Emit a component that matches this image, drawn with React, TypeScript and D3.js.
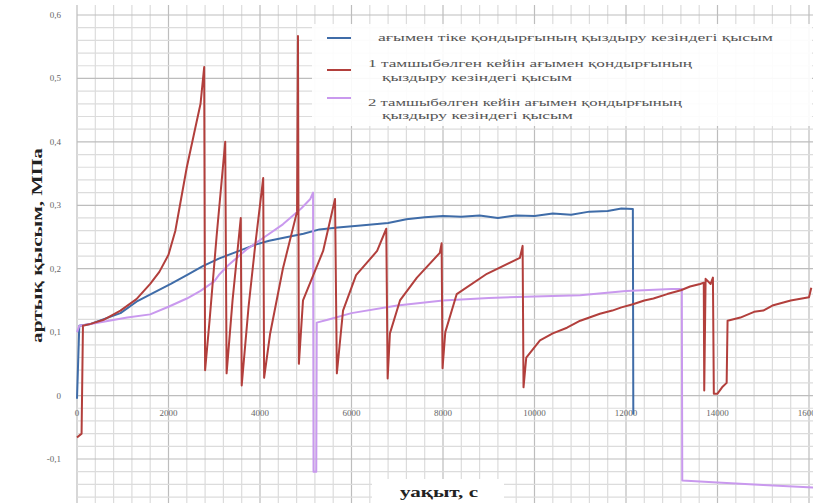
import { useEffect, useRef } from "react";
import * as d3 from "d3";

// time, s
const xTicks = [0, 2000, 4000, 6000, 8000, 10000, 12000, 14000, 16000];
const yTicks = [-0.1, 0, 0.1, 0.2, 0.3, 0.4, 0.5, 0.6];

// pressure, MPa: [time, value]
const bluePressure: [number, number][] = [
  [0, -0.005], [50, 0.11], [300, 0.113], [600, 0.121], [950, 0.13], [1300, 0.148],
  [1700, 0.163], [2050, 0.176], [2400, 0.19], [2750, 0.204], [3100, 0.216],
  [3500, 0.227], [3900, 0.238], [4200, 0.244], [4600, 0.25], [4950, 0.255],
  [5300, 0.262], [5700, 0.265], [6200, 0.268], [6800, 0.272], [7200, 0.278],
  [7600, 0.281], [8000, 0.283], [8400, 0.282], [8800, 0.284], [9200, 0.28],
  [9600, 0.284], [10000, 0.283], [10400, 0.287], [10800, 0.285], [11200, 0.29],
  [11600, 0.291], [11900, 0.295], [12150, 0.294], [12160, -0.03],
];

const redPressure: [number, number][] = [
  [0, -0.066], [100, -0.06], [130, 0.11], [300, 0.113], [600, 0.12], [950, 0.134],
  [1300, 0.152], [1600, 0.176], [1800, 0.195], [2000, 0.222], [2150, 0.26],
  [2250, 0.3], [2400, 0.36], [2550, 0.41], [2700, 0.46], [2780, 0.518], [2800, 0.04],
  [2900, 0.12], [3050, 0.25], [3240, 0.4], [3270, 0.035],
  [3400, 0.15], [3580, 0.28], [3600, 0.016],
  [3750, 0.14], [3900, 0.24], [4070, 0.343], [4090, 0.028],
  [4220, 0.097], [4500, 0.2], [4810, 0.29], [4830, 0.567], [4850, 0.05],
  [4940, 0.15], [5380, 0.228], [5640, 0.31], [5680, 0.035],
  [5815, 0.134], [6100, 0.19], [6560, 0.228], [6760, 0.263], [6790, 0.027],
  [6840, 0.098], [7060, 0.15], [7430, 0.186], [7930, 0.225], [7970, 0.24], [7990, 0.043],
  [8050, 0.1], [8300, 0.16], [8960, 0.192], [9680, 0.217], [9740, 0.236], [9760, 0.013],
  [9820, 0.06], [10120, 0.087], [10400, 0.098], [10710, 0.107], [11000, 0.118],
  [11430, 0.129], [11700, 0.134], [11900, 0.139], [12150, 0.144], [12400, 0.15],
  [12600, 0.153], [12900, 0.16], [13200, 0.166], [13400, 0.172], [13620, 0.176],
  [13700, 0.178], [13710, 0.008], [13740, 0.184], [13850, 0.176], [13900, 0.186],
  [13920, 0.003], [14000, 0.003], [14100, 0.013], [14200, 0.02], [14220, 0.118],
  [14500, 0.123], [14800, 0.132], [15000, 0.134], [15200, 0.142], [15600, 0.15],
  [16000, 0.155], [16050, 0.17],
];

const purplePressure: [number, number][] = [
  [0, 0.1], [50, 0.11], [300, 0.113], [700, 0.118], [1100, 0.123], [1600, 0.128],
  [2000, 0.14], [2400, 0.153], [2700, 0.165], [3000, 0.18], [3100, 0.19],
  [3300, 0.205], [3700, 0.23], [4100, 0.25], [4500, 0.27], [4900, 0.295],
  [5100, 0.31], [5160, 0.32], [5170, -0.12], [5230, -0.12], [5240, 0.115],
  [5500, 0.12], [6000, 0.13], [7000, 0.142], [8000, 0.15], [9000, 0.154],
  [10000, 0.156], [11000, 0.158], [12000, 0.165], [13000, 0.168], [13220, 0.168],
  [13230, -0.134], [14000, -0.137], [15000, -0.141], [16100, -0.145],
];

const seriesNames = [
  ["ағымен тіке қондырғының қыздыру кезіндегі қысым"],
  ["1 тамшыбөлген кейін ағымен қондырғының", "қыздыру кезіндегі қысым"],
  ["2 тамшыбөлген кейін ағымен қондырғының", "қыздыру кезіндегі қысым"],
];
const seriesColors = ["#3f6ca8", "#b23f3c", "#c999ee"];

export default function App() {
  const svgRef = useRef<SVGSVGElement>(null);

  useEffect(() => {
    const width = 813;
    const height = 503;
    const svg = d3.select(svgRef.current);
    svg.selectAll("*").remove();

    const x = d3.scaleLinear().domain([0, 16000]).range([77, 809]);
    const y = d3.scaleLinear().domain([-0.1, 0.6]).range([459, 15]);
    const top = 5;

    svg.append("rect").attr("width", width).attr("height", height).attr("fill", "#fff");

    // grid
    const grid = svg.append("g");
    const xMinor = d3.range(0, x.invert(width), 400);
    const yMinor = d3.range(-0.16, 0.61, 0.02);
    grid
      .selectAll("line.v")
      .data(xMinor)
      .enter()
      .append("line")
      .attr("x1", (d) => x(d))
      .attr("x2", (d) => x(d))
      .attr("y1", top)
      .attr("y2", height)
      .attr("stroke", (d) => (Math.round(d) % 2000 === 0 ? "#bdbdbd" : "#dcdcdc"))
      .attr("stroke-width", 1.2);
    grid
      .selectAll("line.h")
      .data(yMinor)
      .enter()
      .append("line")
      .attr("x1", x(0))
      .attr("x2", width)
      .attr("y1", (d) => y(d))
      .attr("y2", (d) => y(d))
      .attr("stroke", (d) => (Math.abs(Math.round(d * 50)) % 5 === 0 ? "#bdbdbd" : "#dcdcdc"))
      .attr("stroke-width", 1.2);

    // tick labels
    svg
      .selectAll("text.yt")
      .data(yTicks)
      .enter()
      .append("text")
      .attr("x", 61)
      .attr("y", (d) => y(d) + 3)
      .attr("text-anchor", "end")
      .attr("font-family", "Liberation Serif, serif")
      .attr("font-size", "9px")
      .attr("fill", "#666")
      .text((d) => (d === 0 ? "0" : d3.format(".1f")(d).replace(".", ",").replace("−", "-")));

    svg
      .selectAll("text.xt")
      .data(xTicks)
      .enter()
      .append("text")
      .attr("x", (d) => x(d))
      .attr("y", y(0) + 20)
      .attr("text-anchor", "middle")
      .attr("font-family", "Liberation Serif, serif")
      .attr("font-size", "9px")
      .attr("fill", "#666")
      .text((d) => String(d));

    // lines
    const line = d3
      .line<[number, number]>()
      .x((d) => x(d[0]))
      .y((d) => y(d[1]));

    [bluePressure, purplePressure, redPressure].forEach((data) => {
      const idx = data === bluePressure ? 0 : data === redPressure ? 1 : 2;
      svg
        .append("path")
        .datum(data)
        .attr("d", line)
        .attr("fill", "none")
        .attr("stroke", seriesColors[idx])
        .attr("stroke-width", 2)
        .attr("stroke-linejoin", "round");
    });

    // legend
    const legend = svg.append("g");
    legend
      .append("rect")
      .attr("x", 312)
      .attr("y", 24)
      .attr("width", 500)
      .attr("height", 102)
      .attr("fill", "#fff")
      .attr("opacity", 0.9);

    const legendRows = [
      { ly: 38, ty: [41], lens: [395] },
      { ly: 70, ty: [67, 81], lens: [324, 190] },
      { ly: 98, ty: [106, 119], lens: [314, 191] },
    ];
    legendRows.forEach((row, i) => {
      legend
        .append("line")
        .attr("x1", 327)
        .attr("x2", 351)
        .attr("y1", row.ly)
        .attr("y2", row.ly)
        .attr("stroke", seriesColors[i])
        .attr("stroke-width", 2);
      seriesNames[i].forEach((t, j) => {
        legend
          .append("text")
          .attr("x", i === 0 ? 378 : j === 0 ? 368 : 382)
          .attr("y", row.ty[j])
          .attr("font-family", "Liberation Serif, serif")
          .attr("font-size", "11px")
          .attr("fill", "#555")
          .attr("textLength", row.lens[j])
          .attr("lengthAdjust", "spacingAndGlyphs")
          .text(t);
      });
    });

    // axis titles
    svg
      .append("text")
      .attr("transform", `translate(42,${(148 + 343) / 2}) rotate(-90)`)
      .attr("text-anchor", "middle")
      .attr("font-family", "Liberation Serif, serif")
      .attr("font-weight", "bold")
      .attr("font-size", "15px")
      .attr("fill", "#222")
      .attr("textLength", 195)
      .attr("lengthAdjust", "spacingAndGlyphs")
      .text("артық қысым, МПа");

    svg
      .append("rect")
      .attr("x", 372)
      .attr("y", 479)
      .attr("width", 132)
      .attr("height", 24)
      .attr("fill", "#fff");
    svg
      .append("text")
      .attr("x", 439)
      .attr("y", 497)
      .attr("text-anchor", "middle")
      .attr("font-family", "Liberation Serif, serif")
      .attr("font-weight", "bold")
      .attr("font-size", "15px")
      .attr("fill", "#222")
      .attr("textLength", 78)
      .attr("lengthAdjust", "spacingAndGlyphs")
      .text("уақыт, с");
  }, []);

  return (
    <svg
      ref={svgRef}
      width={813}
      height={503}
      style={{ position: "absolute", left: 0, top: 0, display: "block" }}
    />
  );
}
